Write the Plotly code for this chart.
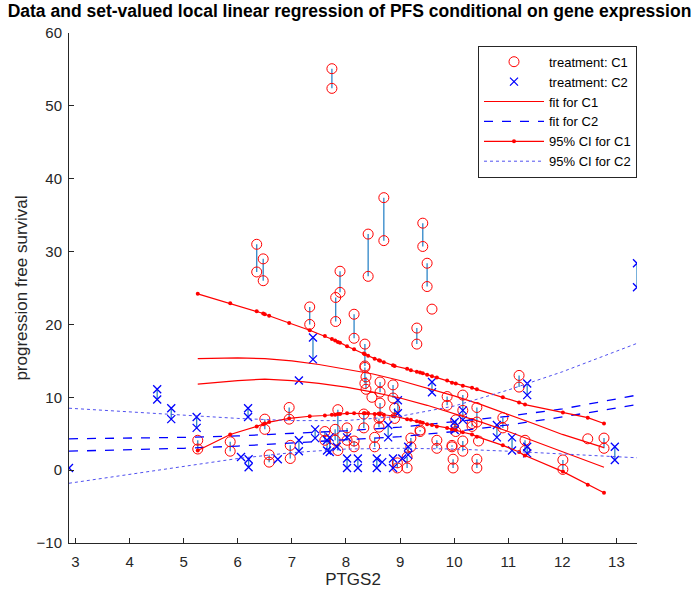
import plotly.graph_objects as go

# ---------- data: treatment C1 (set-valued observations: x, lower, upper) ----------
c1_x  = [5.26, 5.86, 6.35, 6.47, 6.50, 6.58, 6.95, 6.97, 7.33, 7.61, 7.74, 7.80, 7.81, 7.85, 7.89,
         8.02, 8.15, 8.15, 8.33, 8.35, 8.35, 8.37, 8.41, 8.48, 8.53, 8.61, 8.63, 8.63, 8.70, 8.87,
         8.90, 8.95, 9.13, 9.20, 9.31, 9.37, 9.42, 9.50, 9.59, 9.68, 9.87, 9.96, 9.98, 10.03, 10.16,
         10.16, 10.33, 10.42, 10.42, 10.45, 10.90, 11.20, 11.31, 12.01, 12.47, 12.77]
c1_lo = [2.9, 2.6, 27.2, 26.0, 5.6, 1.1, 7.0, 1.6, 20.0, 4.1, 52.4, 4.1, 20.4, 2.7, 24.4,
         4.1, 18.1, 3.2, 5.8, 14.3, 11.9, 11.1, 26.6, 10.0, 3.2, 5.9, 7.3, 10.7, 31.5, 9.9,
         7.1, 0.3, 0.3, 3.2, 17.3, 5.3, 30.7, 25.2, 22.1, 3.0, 8.9, 3.2, 0.3, 5.3, 8.2,
         2.6, 6.0, 6.6, 0.3, 4.0, 5.8, 11.4, 2.7, 0.1, 4.3, 3.0]
c1_hi = [4.1, 3.9, 31.0, 29.0, 7.0, 2.1, 8.6, 3.4, 22.4, 5.3, 55.1, 5.6, 23.7, 8.3, 27.3,
         5.8, 21.4, 4.0, 7.7, 17.3, 14.1, 12.8, 32.4, 10.0, 4.5, 7.1, 9.2, 12.1, 37.4, 11.7,
         8.5, 1.0, 1.8, 4.4, 19.5, 5.5, 33.9, 28.4, 22.1, 4.1, 10.1, 3.4, 1.5, 6.9, 10.3,
         4.0, 6.4, 8.6, 1.5, 4.0, 7.2, 13.0, 4.1, 1.4, 4.3, 4.4]

# ---------- data: treatment C2 ----------
c2_x  = [2.88, 4.51, 4.77, 5.24, 6.06, 6.19, 6.20, 6.74, 7.13, 7.13, 7.39, 7.43, 7.65, 7.70, 7.83,
         8.02, 8.02, 8.22, 8.57, 8.67, 8.78, 8.87, 8.96, 9.04, 9.15, 9.59, 10.01, 10.16, 10.79,
         11.07, 11.35, 11.35, 12.97, 13.38]
c2_lo = [0.3, 9.7, 7.0, 5.8, 1.8, 7.3, 0.4, 1.5, 12.3, 2.6, 15.2, 4.4, 2.7, 2.5, 3.2,
         0.3, 4.5, 0.3, 0.3, 1.1, 4.5, 0.3, 7.8, 1.6, 2.1, 10.7, 5.5, 6.9, 4.5,
         2.7, 10.3, 2.3, 1.4, 25.1]
c2_hi = [0.3, 11.1, 8.5, 7.3, 1.8, 8.5, 1.5, 1.5, 12.3, 4.1, 18.2, 5.6, 4.1, 4.5, 3.2,
         1.6, 4.5, 1.6, 1.6, 1.1, 6.2, 1.6, 9.6, 1.6, 3.2, 12.1, 6.6, 8.2, 6.2,
         4.5, 11.9, 3.2, 3.2, 28.4]

# ---------- fitted set-valued regression for C1 (lower / upper bound) ----------
fit1_x  = [5.26, 6.0, 6.5, 7.0, 7.5, 8.0, 8.5, 9.0, 9.5, 10.0, 10.5, 11.0, 11.5, 12.0, 12.77]
fit1_up = [15.3, 15.4, 15.3, 15.0, 14.5, 13.9, 13.2, 12.3, 11.3, 10.2, 9.0, 7.7, 6.3, 4.9, 3.1]
fit1_lo = [11.8, 12.3, 12.5, 12.3, 11.9, 11.4, 10.7, 9.9, 8.9, 7.8, 6.6, 5.3, 3.9, 2.5, 0.4]

# ---------- 95% CI for C1 ----------
ci1_x  = [5.26, 5.86, 6.35, 6.47, 6.50, 6.58, 6.95, 7.33, 7.61, 7.74, 7.80, 7.85, 7.89, 8.02, 8.15,
          8.33, 8.35, 8.41, 8.53, 8.61, 8.63, 8.70, 8.87, 8.90, 9.13, 9.20, 9.31, 9.37, 9.42, 9.50,
          9.59, 9.68, 9.87, 9.96, 10.03, 10.16, 10.33, 10.42, 10.90, 11.20, 11.31, 12.01, 12.47, 12.77]
ci1_up = [24.2, 22.9, 21.8, 21.5, 21.4, 21.2, 20.2, 19.2, 18.4, 18.0, 17.8, 17.6, 17.5, 17.0, 16.6,
          16.0, 15.9, 15.7, 15.3, 15.1, 15.0, 14.8, 14.4, 14.3, 13.9, 13.7, 13.5, 13.4, 13.3, 13.1,
          12.9, 12.7, 12.3, 12.0, 11.9, 11.6, 11.3, 11.1, 10.0, 9.3, 9.0, 7.9, 7.2, 6.4]
ci1_lo = [2.7, 4.9, 6.0, 6.3, 6.4, 6.6, 7.1, 7.4, 7.5, 7.6, 7.6, 7.7, 7.7, 7.8, 7.8,
          7.8, 7.8, 7.8, 7.7, 7.7, 7.7, 7.6, 7.4, 7.4, 7.0, 6.9, 6.7, 6.6, 6.5, 6.3,
          6.2, 6.0, 5.8, 5.6, 5.5, 5.2, 4.9, 4.6, 3.4, 2.5, 2.0, -0.2, -2.0, -3.1]

# ---------- fitted regression and CI for C2 ----------
fit2_x  = [2.88, 4.0, 5.0, 6.0, 7.0, 8.0, 9.0, 10.0, 11.0, 12.0, 13.38]
fit2_up = [4.3, 4.4, 4.5, 4.7, 5.0, 5.4, 5.9, 6.6, 7.4, 8.4, 10.3]
fit2_lo = [2.6, 2.8, 3.0, 3.3, 3.7, 4.1, 4.6, 5.3, 6.2, 7.3, 9.0]
ci2_up  = [8.5, 8.0, 7.5, 7.1, 6.8, 6.8, 7.4, 8.8, 11.0, 13.5, 17.4]
ci2_lo  = [-1.8, -0.6, 0.5, 1.6, 2.4, 2.9, 3.0, 2.9, 2.6, 2.2, 1.7]

x_ticks = [3, 4, 5, 6, 7, 8, 9, 10, 11, 12, 13]
y_ticks = [-10, 0, 10, 20, 30, 40, 50, 60]

RED = "#FF0000"
BLUE = "#0000FF"
CONN = "#2E86C8"
FONT = "Liberation Sans, Arial, sans-serif"


def connectors(xs, lo, hi):
    cx, cy = [], []
    for x, a, b in zip(xs, lo, hi):
        if a != b:
            cx += [x, x, None]
            cy += [a, b, None]
    return cx, cy


def points(xs, lo, hi):
    px, py = [], []
    for x, a, b in zip(xs, lo, hi):
        px.append(x); py.append(a)
        if a != b:
            px.append(x); py.append(b)
    return px, py


fig = go.Figure()

for xs, lo, hi in [(c1_x, c1_lo, c1_hi), (c2_x, c2_lo, c2_hi)]:
    cx, cy = connectors(xs, lo, hi)
    fig.add_trace(go.Scatter(x=cx, y=cy, mode="lines", line=dict(color=CONN, width=1.3),
                             showlegend=False, hoverinfo="skip"))

px1, py1 = points(c1_x, c1_lo, c1_hi)
px2, py2 = points(c2_x, c2_lo, c2_hi)
fig.add_trace(go.Scatter(x=px1, y=py1, mode="markers", name="treatment: C1",
                         marker=dict(symbol="circle-open", size=10, color=RED, line=dict(width=1))))
fig.add_trace(go.Scatter(x=px2, y=py2, mode="markers", name="treatment: C2",
                         marker=dict(symbol="x-thin-open", size=8, color=BLUE, line=dict(width=1.3, color=BLUE))))

fig.add_trace(go.Scatter(x=fit1_x, y=fit1_up, mode="lines", name="fit for C1",
                         line=dict(color=RED, width=1.2), legendgroup="f1"))
fig.add_trace(go.Scatter(x=fit1_x, y=fit1_lo, mode="lines", showlegend=False,
                         line=dict(color=RED, width=1.2), legendgroup="f1"))
fig.add_trace(go.Scatter(x=fit2_x, y=fit2_up, mode="lines", name="fit for C2",
                         line=dict(color=BLUE, width=1.3, dash="dash"), legendgroup="f2"))
fig.add_trace(go.Scatter(x=fit2_x, y=fit2_lo, mode="lines", showlegend=False,
                         line=dict(color=BLUE, width=1.3, dash="dash"), legendgroup="f2"))
fig.add_trace(go.Scatter(x=ci1_x, y=ci1_up, mode="lines+markers", name="95% CI for C1",
                         line=dict(color=RED, width=1.2), marker=dict(size=4, color=RED),
                         legendgroup="c1"))
fig.add_trace(go.Scatter(x=ci1_x, y=ci1_lo, mode="lines+markers", showlegend=False,
                         line=dict(color=RED, width=1.2), marker=dict(size=4, color=RED),
                         legendgroup="c1"))
fig.add_trace(go.Scatter(x=fit2_x, y=ci2_up, mode="lines", name="95% CI for C2",
                         line=dict(color="#5050F0", width=1, dash="dot"), legendgroup="c2"))
fig.add_trace(go.Scatter(x=fit2_x, y=ci2_lo, mode="lines", showlegend=False,
                         line=dict(color="#5050F0", width=1, dash="dot"), legendgroup="c2"))

axis_common = dict(showline=True, linecolor="#262626", linewidth=1, ticks="inside", ticklen=5,
                   tickcolor="#262626", showgrid=False, zeroline=False, mirror=False, automargin=False,
                   tickfont=dict(family=FONT, size=15, color="#262626"),
                   title_font=dict(family=FONT, size=17, color="#262626"))

fig.update_layout(
    width=699, height=590,
    margin=dict(l=69, r=62, t=33, b=47),
    plot_bgcolor="white", paper_bgcolor="white",
    title=dict(text="<b>Data and set-valued local linear regression of PFS conditional on gene expression</b>",
               x=0.5, xref="container", xanchor="center", y=0.981, yanchor="middle",
               font=dict(family=FONT, size=17.5, color="black")),
    xaxis=dict(range=[2.88, 13.38], tickvals=x_ticks, ticklabelstandoff=5,
               title=dict(text="PTGS2", standoff=3), **axis_common),
    yaxis=dict(range=[-10, 60], tickvals=y_ticks, ticklabelstandoff=3,
               title=dict(text="progression free survival", standoff=4), **axis_common),
    legend=dict(x=1.0, xanchor="right", y=0.975, yanchor="top", bgcolor="white",
                bordercolor="#262626", borderwidth=1, itemwidth=60,
                font=dict(family=FONT, size=13, color="black"), tracegroupgap=0),
    showlegend=True,
)

# remove the browser's default 8px page margin so the figure sits at the window's origin
fig.write_html("out.html", config={"displayModeBar": False},
               post_script="document.body.style.margin='0px';")
